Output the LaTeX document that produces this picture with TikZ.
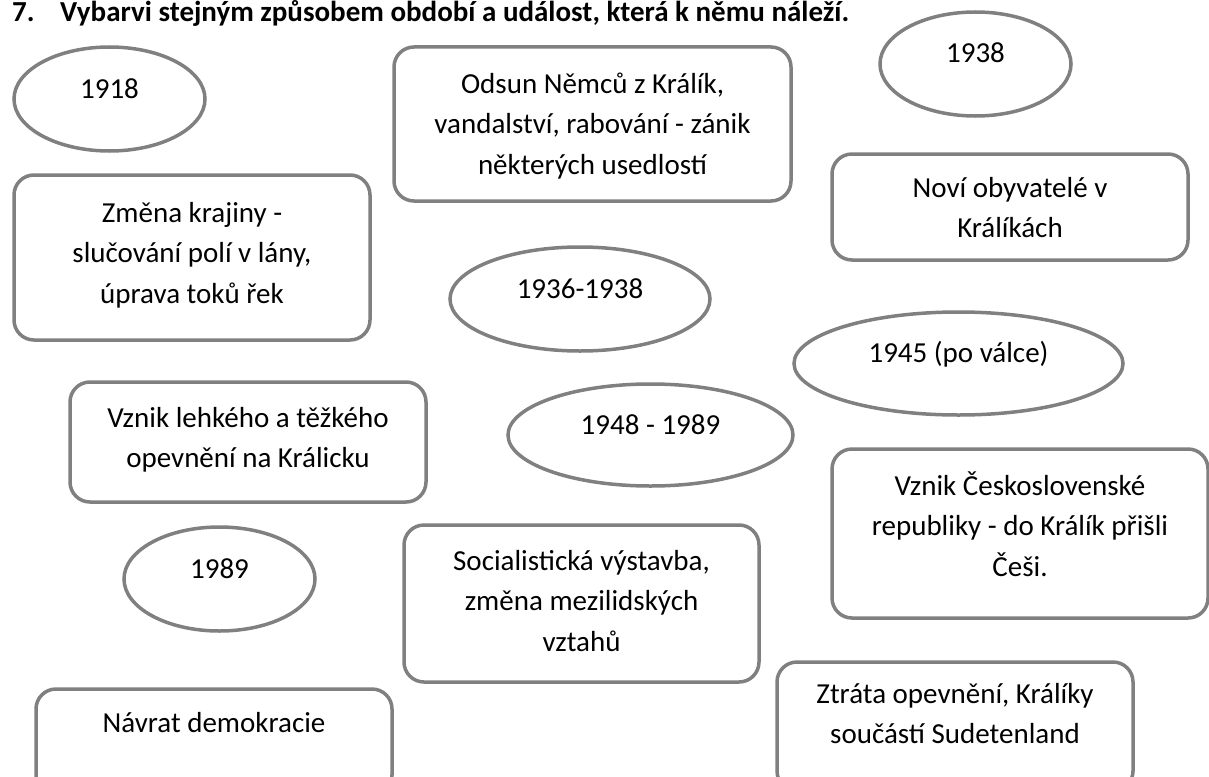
\documentclass[tikz,border=0pt]{standalone}
\usepackage{fontspec}
\setmainfont{Carlito}
\usetikzlibrary{shapes.geometric}
\definecolor{boxgray}{RGB}{128,128,128}
\newcommand{\taskfont}{\fontsize{29}{40.5}\selectfont}

\begin{document}
\begin{tikzpicture}[x=1pt, y=-1pt,
    period/.style={ellipse, draw=boxgray, line width=3.5pt, font=\taskfont, inner sep=0pt, text height=18pt, text depth=20pt},
    event/.style={rectangle, rounded corners=20pt, draw=boxgray, line width=3.5pt, font=\taskfont, align=flush center, inner sep=0pt, anchor=base}]
    \useasboundingbox (0,0) rectangle (1209,776);
    \clip (0,0) rectangle (1209,776);
    \node(num)[anchor=base west, inner sep=0pt, font=\taskfont\bfseries] at (12,22) {7.};
    \node(task)[anchor=base west, inner sep=0pt, font=\taskfont\bfseries] at (60,22) {Vybarvi stejným způsobem období a událost, která k němu náleží.};

    \node(y1918)[period, minimum width=191pt, minimum height=104pt] at (109.5,99) {1918};
    \node(y1938)[period, minimum width=191pt, minimum height=104pt] at (975.5,64) {1938};
    \node(y1936)[period, minimum width=260pt, minimum height=104pt] at (580,299) {1936-1938};
    \node(y1945)[period, minimum width=329pt, minimum height=103pt] at (958.5,363.5) {1945 (po válce)};
    \node(y1948)[period, minimum width=285pt, minimum height=102pt] at (650.5,435) {1948 - 1989};
    \node(y1989)[period, minimum width=191pt, minimum height=104pt] at (219.5,579) {1989};

    \node(zmena)[event, minimum width=356pt, text width=340pt, text height=47pt, text depth=118pt] at (192,222) {Změna krajiny -\\slučování polí v lány,\\úprava toků řek};
    \node(odsun)[event, minimum width=397pt, text width=380pt, text height=46pt, text depth=108pt] at (592.5,93) {Odsun Němců z Králík,\\vandalství, rabování - zánik\\některých usedlostí};
    \node(novi)[event, minimum width=356pt, text width=340pt, text height=43pt, text depth=63pt] at (1010,197) {Noví obyvatelé v\\Králíkách};
    \node(opevneni)[event, minimum width=356pt, text width=340pt, text height=45pt, text depth=75pt] at (248,427) {Vznik lehkého a těžkého\\opevnění na Králicku};
    \node(socialismus)[event, minimum width=355pt, text width=340pt, text height=45pt, text depth=112pt] at (581.5,570) {Socialistická výstavba,\\změna mezilidských\\vztahů};
    \node(csr)[event, minimum width=376pt, text width=360pt, text height=46pt, text depth=123pt] at (1020,495) {Vznik Československé\\republiky - do Králík přišli\\Češi.};
    \node(navrat)[event, minimum width=356pt, text width=340pt, text height=43pt, text depth=63pt] at (214,732) {Návrat demokracie};
    \node(ztrata)[event, minimum width=356pt, text width=340pt, text height=41pt, text depth=88pt] at (955,703) {Ztráta opevnění, Králíky\\součástí Sudetenland};
\end{tikzpicture}
\end{document}
